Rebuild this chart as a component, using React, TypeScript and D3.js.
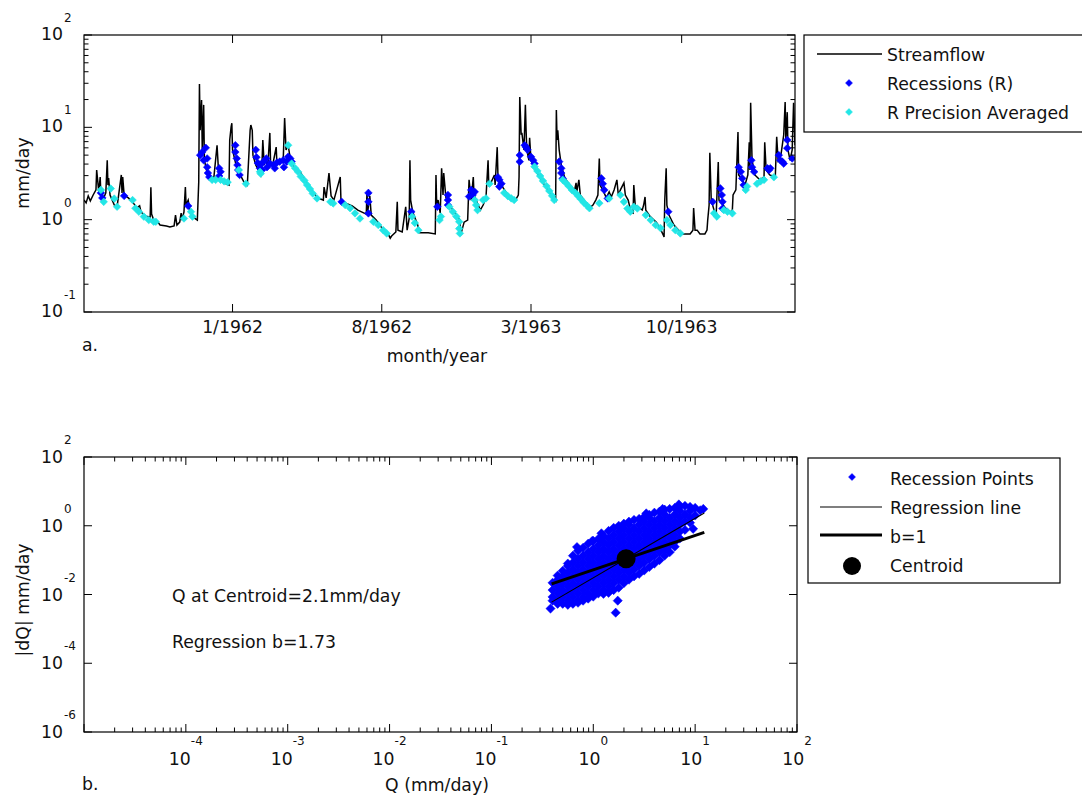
import React from "react";
import * as d3 from "d3";

// ---------------- Panel a data (days after 1 June 1961, mm/day) ----------------
const timeDomainDays: [number, number] = [3, 1013];
const timeTickLabels = ["1/1962", "8/1962", "3/1963", "10/1963"];
const timeTickDates = [new Date(1962, 0, 1), new Date(1962, 7, 1), new Date(1963, 2, 1), new Date(1963, 9, 1)];
const panelAYExponents = [-1, 0, 1, 2];

const streamflow: [number, number][] = [
  [3,1.63],[6,1.52],[9,1.81],[12,1.6],[16,1.85],[20,2.1],[21,3.45],[24,2.0],[26,2.9],[27,1.85],[31,1.72],[34,1.95],[36,4.4],[37,2.37],[38,2.83],[40,1.85],[46,1.44],[50,1.38],[56,3.05],[57,1.95],[58,2.9],[60,1.85],[66,1.72],[73,1.52],[78,1.34],[82,1.41],[84,1.21],[91,1.09],[97,1.07],[98,2.25],[99,1.15],[102,0.99],[108,0.94],[111,0.875],[120,0.855],[125,0.835],[131,0.855],[133,1.12],[135,0.875],[139,0.94],[141,1.18],[142,0.99],[145,1.21],[147,2.25],[148,1.44],[151,1.63],[154,1.18],[160,1.04],[164,0.99],[166,2.57],[167,29.5],[168,9.3],[170,19.8],[171,5.7],[173,17.5],[174,4.4],[177,3.45],[180,2.83],[184,2.7],[187,2.63],[192,6.4],[194,3.45],[196,2.83],[202,2.5],[209,2.37],[210,7.3],[212,10.1],[213,11.1],[214,5.7],[219,3.9],[225,3.05],[230,2.57],[235,2.37],[239,9.3],[240,10.6],[242,9.3],[243,5.0],[247,3.9],[252,3.3],[254,3.05],[256,4.4],[257,7.3],[259,3.9],[261,4.6],[264,3.7],[267,8.7],[268,4.2],[271,3.9],[276,6.1],[277,4.1],[281,4.4],[286,4.4],[288,12.6],[290,5.7],[293,6.4],[296,4.6],[299,3.9],[310,3.3],[324,2.2],[335,1.72],[343,1.63],[344,2.25],[347,1.72],[351,3.2],[354,1.81],[358,1.63],[367,2.9],[368,1.63],[374,1.52],[384,1.41],[392,1.27],[404,1.15],[405,2.0],[406,1.21],[409,1.81],[411,1.12],[418,0.99],[426,0.815],[435,0.7],[438,0.63],[440,0.665],[446,0.735],[448,1.56],[449,0.77],[455,0.735],[460,1.38],[462,0.77],[465,1.04],[466,4.4],[467,1.63],[470,1.21],[477,0.875],[480,0.72],[492,0.72],[502,0.7],[503,3.05],[504,1.44],[506,1.63],[509,1.18],[511,3.6],[513,1.85],[514,3.2],[517,1.76],[520,1.52],[530,1.18],[537,0.99],[538,0.68],[543,0.94],[548,0.99],[550,2.7],[553,1.63],[556,2.9],[557,1.85],[563,1.44],[566,1.27],[570,1.44],[574,1.72],[577,4.4],[578,2.37],[581,2.5],[586,3.05],[587,2.37],[590,6.1],[591,3.05],[596,2.37],[603,1.95],[610,1.72],[616,1.63],[620,1.85],[621,2.9],[622,21.3],[624,8.3],[625,8.7],[628,5.7],[630,17.5],[631,9.3],[632,5.7],[635,4.4],[636,7.7],[638,4.4],[644,3.45],[651,2.83],[658,2.31],[665,1.95],[672,1.68],[673,1.63],[674,15.4],[675,7.3],[676,9.3],[678,5.7],[681,3.9],[686,2.83],[693,2.37],[700,2.1],[702,2.5],[703,2.0],[706,2.7],[708,1.85],[715,1.56],[721,1.34],[726,1.44],[730,1.63],[733,1.85],[735,4.6],[736,2.37],[740,2.1],[745,1.72],[749,2.0],[752,1.76],[756,2.1],[760,2.7],[762,1.85],[765,2.1],[770,2.5],[772,1.85],[776,1.63],[780,1.21],[783,1.18],[784,2.37],[786,1.44],[790,1.38],[796,1.27],[798,1.44],[800,1.76],[801,1.27],[807,1.09],[816,0.94],[821,0.815],[826,0.68],[827,0.65],[828,1.63],[830,3.6],[831,1.44],[834,1.12],[841,0.875],[850,0.735],[854,0.7],[864,0.7],[868,0.77],[869,1.34],[871,0.77],[874,0.77],[878,0.7],[885,0.7],[888,0.77],[889,0.99],[891,1.44],[892,5.3],[894,1.63],[898,1.27],[901,1.12],[904,4.2],[905,1.63],[909,1.52],[914,1.34],[921,1.21],[924,1.27],[925,1.85],[929,2.1],[932,8.9],[933,3.05],[938,2.7],[942,2.37],[946,3.05],[948,6.9],[949,3.45],[950,18.4],[952,4.4],[956,3.05],[963,2.7],[969,2.9],[970,6.9],[972,3.45],[977,3.05],[985,2.9],[987,7.9],[989,4.4],[993,5.0],[997,8.3],[999,18.8],[1000,7.3],[1002,14.6],[1003,5.7],[1006,4.4],[1009,5.7],[1011,18.4],[1013,6.4]
];

const recessions: [number, number][] = [
  [27,1.95],[29,1.72],[60,1.81],[151,1.41],[168,5.0],[171,5.4],[173,4.4],[176,6.0],[178,4.6],[178,3.7],[179,3.2],[181,2.9],[195,3.6],[195,2.97],[197,3.3],[218,6.4],[218,5.4],[220,4.6],[221,3.9],[222,3.45],[224,3.05],[247,5.7],[248,4.75],[250,4.1],[253,3.6],[253,3.9],[256,3.45],[258,4.25],[262,4.6],[263,3.7],[267,4.05],[272,3.9],[274,3.6],[277,4.15],[281,4.25],[286,4.4],[287,3.7],[291,4.25],[293,4.8],[296,4.6],[298,4.25],[369,1.56],[407,1.95],[407,1.56],[407,1.17],[468,1.22],[505,1.38],[520,1.85],[520,1.63],[520,1.44],[550,1.78],[553,2.1],[555,1.85],[558,2.0],[591,2.88],[593,2.7],[593,2.28],[596,2.45],[622,5.0],[622,4.25],[629,6.4],[631,6.1],[633,5.7],[638,4.8],[641,4.4],[643,4.05],[678,4.25],[681,3.6],[681,3.2],[683,2.8],[738,2.8],[740,2.45],[742,2.1],[747,1.7],[833,1.22],[896,1.56],[907,2.18],[909,1.85],[910,1.56],[910,1.32],[933,3.7],[936,3.3],[938,2.8],[940,2.37],[951,4.4],[952,3.7],[955,3.3],[974,3.6],[976,3.45],[978,3.6],[990,5.0],[992,4.4],[995,4.25],[997,4.05],[1002,7.3],[1002,5.95],[1009,4.6]
];

const precisionAveraged: [number, number][] = [
  [27,2.1],[31,1.56],[41,2.17],[46,1.69],[50,1.38],[72,1.63],[76,1.33],[81,1.22],[88,1.08],[95,0.99],[102,0.95],[105,0.95],[145,1.03],[155,1.22],[157,1.08],[185,2.7],[190,2.7],[197,2.7],[202,2.6],[207,2.55],[223,3.45],[233,2.45],[253,3.3],[254,3.15],[293,6.4],[298,4.05],[303,3.6],[307,3.3],[311,2.93],[316,2.66],[320,2.37],[324,2.15],[328,1.92],[334,1.7],[353,1.56],[357,1.5],[374,1.44],[381,1.33],[388,1.17],[395,1.03],[414,0.95],[421,0.875],[428,0.77],[433,0.71],[469,1.08],[473,0.92],[478,0.77],[508,0.99],[510,1.08],[522,1.38],[527,1.22],[532,1.08],[536,0.95],[536,0.8],[537,0.71],[558,1.63],[560,1.44],[562,1.27],[570,1.63],[574,1.7],[579,2.45],[600,1.95],[605,1.8],[610,1.7],[614,1.63],[643,3.75],[647,3.37],[651,2.97],[655,2.63],[660,2.31],[664,2.05],[668,1.81],[671,1.63],[683,2.7],[688,2.48],[692,2.29],[696,2.1],[701,1.95],[705,1.8],[709,1.66],[713,1.53],[718,1.41],[721,1.33],[735,1.51],[749,1.7],[765,1.85],[770,1.56],[775,1.32],[779,1.22],[784,1.38],[789,1.32],[801,1.12],[808,0.99],[815,0.875],[822,0.81],[831,0.99],[836,0.875],[843,0.77],[850,0.71],[898,1.17],[902,1.08],[912,1.27],[917,1.22],[924,1.17],[943,2.1],[945,2.29],[959,2.45],[964,2.6],[969,2.7],[983,2.88]
];

// ---------------- Panel b data (log10 Q, list of log10 |dQ|) ----------------
const panelBXExponents = [-4, -3, -2, -1, 0, 1, 2];
const panelBYExponents = [-6, -4, -2, 0, 2];

const recessionCloud: [number, number[]][] = [
  [-0.40, [-1.66, -1.87, -2.07, -2.18]],
  [-0.35, [-1.45, -1.57, -1.77, -1.97, -2.17, -2.27]],
  [-0.30, [-1.31, -1.47, -1.67, -1.87, -2.07, -2.27]],
  [-0.25, [-1.10, -1.17, -1.37, -1.57, -1.77, -1.97, -2.17, -2.30]],
  [-0.20, [-0.87, -1.07, -1.27, -1.47, -1.67, -1.87, -2.07, -2.27]],
  [-0.15, [-0.73, -0.97, -1.17, -1.37, -1.57, -1.77, -1.97, -2.17, -2.24]],
  [-0.10, [-0.64, -0.87, -1.07, -1.27, -1.47, -1.67, -1.87, -2.07, -2.18]],
  [-0.05, [-0.52, -0.77, -0.97, -1.17, -1.37, -1.57, -1.77, -1.97, -2.12]],
  [0.00, [-0.44, -0.67, -0.87, -1.07, -1.27, -1.47, -1.67, -1.87, -2.06]],
  [0.05, [-0.38, -0.57, -0.77, -0.97, -1.17, -1.37, -1.57, -1.77, -1.97]],
  [0.10, [-0.29, -0.47, -0.67, -0.87, -1.07, -1.27, -1.47, -1.67, -1.87, -1.98]],
  [0.15, [-0.15, -0.37, -0.57, -0.77, -0.97, -1.17, -1.37, -1.57, -1.77, -1.95]],
  [0.20, [-0.06, -0.27, -0.47, -0.67, -0.87, -1.07, -1.27, -1.47, -1.67, -1.87]],
  [0.25, [0.00, -0.17, -0.37, -0.57, -0.77, -0.97, -1.17, -1.37, -1.57, -1.80]],
  [0.30, [0.06, -0.07, -0.27, -0.47, -0.67, -0.87, -1.07, -1.27, -1.47, -1.67]],
  [0.35, [0.12, 0.03, -0.17, -0.37, -0.57, -0.77, -0.97, -1.17, -1.37, -1.57]],
  [0.40, [0.17, -0.07, -0.27, -0.47, -0.67, -0.87, -1.07, -1.27, -1.47]],
  [0.45, [0.20, 0.03, -0.17, -0.37, -0.57, -0.77, -0.97, -1.17, -1.40]],
  [0.50, [0.26, 0.13, -0.07, -0.27, -0.47, -0.67, -0.87, -1.07, -1.30]],
  [0.55, [0.32, 0.23, 0.03, -0.17, -0.37, -0.57, -0.77, -0.97, -1.20]],
  [0.60, [0.38, 0.13, -0.07, -0.27, -0.47, -0.67, -0.87, -1.10]],
  [0.65, [0.41, 0.23, 0.03, -0.17, -0.37, -0.57, -0.77, -1.00]],
  [0.70, [0.47, 0.33, 0.13, -0.07, -0.27, -0.47, -0.67, -0.87]],
  [0.75, [0.49, 0.23, 0.03, -0.17, -0.37, -0.57, -0.77]],
  [0.80, [0.52, 0.33, 0.13, -0.07, -0.27, -0.47, -0.61]],
  [0.85, [0.55, 0.43, 0.23, 0.03, -0.17, -0.37]],
  [0.90, [0.58, 0.33, 0.13, -0.12]],
  [0.95, [0.55, 0.43, 0.23, 0.09]],
  [1.00, [0.52, 0.30]],
  [1.05, [0.45]]
];
const recessionOutliers: [number, number][] = [
  [-0.42, -2.41], [0.24, -2.18], [0.22, -2.53], [0.68, 0.49], [1.08, 0.49], [0.98, -0.09], [-0.01, -0.44],
  [-0.16, -0.62], [0.08, -0.22], [0.52, 0.36], [0.84, 0.62]
];

const centroid = { Q: 2.1, dQ: 0.11 };
const regressionB = 1.73;
const lineQ = [0.39, 12.3];
const regressionDQ = [0.006, 2.34];
const slopeOneDQ = [0.0204, 0.644];

const legendA = ["Streamflow", "Recessions (R)", "R Precision Averaged"];
const legendB = ["Recession Points", "Regression line", "b=1", "Centroid"];

const BLUE = "#0000ff";
const CYAN = "#22e6e6";
const FONT = "'DejaVu Sans', Verdana, sans-serif";
const FS = 17.3;
const EFS = 12;

const diamond = (cx: number, cy: number, r: number) =>
  `M${cx},${cy - r}L${cx + r},${cy}L${cx},${cy + r}L${cx - r},${cy}Z`;

export default function App() {
  // ---------- Panel a ----------
  const A = { l: 84, r: 795, t: 35, b: 312 };
  const dayToDate = (d: number) => new Date(1961, 5, 1 + d);
  const xA = d3.scaleTime().domain([dayToDate(timeDomainDays[0]), dayToDate(timeDomainDays[1])]).range([A.l, A.r]);
  const yA = d3.scaleLog().domain([0.1, 100]).range([A.b, A.t]);
  const lineA = d3.line<[number, number]>().x((d) => xA(dayToDate(d[0]))).y((d) => yA(d[1]));

  const minorA: number[] = [];
  for (let e = -1; e < 2; e++) for (let m = 2; m <= 9; m++) minorA.push(m * Math.pow(10, e));

  // ---------- Panel b ----------
  const B = { l: 84, r: 797, t: 457, b: 732 };
  const xB = d3.scaleLog().domain([1e-5, 1e2]).range([B.l, B.r]);
  const yB = d3.scaleLog().domain([1e-6, 1e2]).range([B.b, B.t]);
  const majorBX: number[] = [];
  const minorBX: number[] = [];
  for (let e = -5; e <= 2; e++) {
    majorBX.push(Math.pow(10, e));
    if (e < 2) for (let m = 2; m <= 9; m++) minorBX.push(m * Math.pow(10, e));
  }
  const cloudPts: [number, number][] = [];
  recessionCloud.forEach(([lq, list]) => list.forEach((ld) => cloudPts.push([Math.pow(10, lq), Math.pow(10, ld)])));
  recessionOutliers.forEach(([lq, ld]) => cloudPts.push([Math.pow(10, lq), Math.pow(10, ld)]));

  const tickStroke = { stroke: "#000", strokeWidth: 1 };

  return (
    <svg width={1082} height={798} style={{ position: "absolute", left: 0, top: 0, background: "#fff" }}
      fontFamily={FONT} fontSize={FS} fill="#111">
      <rect x={0} y={0} width={1082} height={798} fill="#fff" />
      <defs>
        <clipPath id="clipA"><rect x={A.l} y={A.t} width={A.r - A.l} height={A.b - A.t} /></clipPath>
        <clipPath id="clipB"><rect x={B.l} y={B.t} width={B.r - B.l} height={B.b - B.t} /></clipPath>
      </defs>

      {/* ================= Panel a ================= */}
      <g clipPath="url(#clipA)">
        <path d={lineA(streamflow) || ""} fill="none" stroke="#000" strokeWidth={1.5} />
        {recessions.map((p, i) => (
          <path key={"r" + i} d={diamond(xA(dayToDate(p[0])), yA(p[1]), 3.8)} fill={BLUE} stroke={BLUE} strokeWidth={0.6} />
        ))}
        {precisionAveraged.map((p, i) => (
          <path key={"c" + i} d={diamond(xA(dayToDate(p[0])), yA(p[1]), 3.8)} fill={CYAN} stroke={CYAN} strokeWidth={0.6} />
        ))}
      </g>
      <rect x={A.l} y={A.t} width={A.r - A.l} height={A.b - A.t} fill="none" stroke="#000" strokeWidth={1.2} />
      {panelAYExponents.map((e) => {
        const y = yA(Math.pow(10, e));
        return (
          <g key={"ya" + e}>
            <line x1={A.l} x2={A.l + 8} y1={y} y2={y} {...tickStroke} />
            <line x1={A.r} x2={A.r - 8} y1={y} y2={y} {...tickStroke} />
            <text x={63} y={y + 5} textAnchor="end">10</text>
            <text x={64} y={y - 13} fontSize={EFS}>{e}</text>
          </g>
        );
      })}
      {minorA.map((v, i) => (
        <g key={"yam" + i}>
          <line x1={A.l} x2={A.l + 4.5} y1={yA(v)} y2={yA(v)} {...tickStroke} />
          <line x1={A.r} x2={A.r - 4.5} y1={yA(v)} y2={yA(v)} {...tickStroke} />
        </g>
      ))}
      {timeTickDates.map((dt, i) => {
        const x = xA(dt);
        return (
          <g key={"xa" + i}>
            <line x1={x} x2={x} y1={A.b} y2={A.b - 8} {...tickStroke} />
            <line x1={x} x2={x} y1={A.t} y2={A.t + 8} {...tickStroke} />
            <text x={x} y={333} textAnchor="middle">{timeTickLabels[i]}</text>
          </g>
        );
      })}
      <text x={437} y={362} textAnchor="middle">month/year</text>
      <text x={82} y={351}>a.</text>
      <text transform="translate(29,173) rotate(-90)" textAnchor="middle">mm/day</text>

      {/* Legend a */}
      <rect x={804} y={35} width={300} height={97} fill="#fff" stroke="#000" strokeWidth={1.2} />
      <line x1={817} x2={882} y1={54} y2={54} stroke="#000" strokeWidth={1.3} />
      <path d={diamond(849, 83, 3.5)} fill={BLUE} stroke={BLUE} strokeWidth={0.5} />
      <path d={diamond(849, 112, 3.5)} fill={CYAN} stroke={CYAN} strokeWidth={0.5} />
      {legendA.map((t, i) => (
        <text key={"la" + i} x={887} y={61 + i * 28.8}>{t}</text>
      ))}

      {/* ================= Panel b ================= */}
      <g clipPath="url(#clipB)">
        {cloudPts.map((p, i) => (
          <path key={"s" + i} d={diamond(xB(p[0]), yB(p[1]), 4.6)} fill={BLUE} stroke={BLUE} strokeWidth={0.5} />
        ))}
        <line x1={xB(lineQ[0])} x2={xB(lineQ[1])} y1={yB(regressionDQ[0])} y2={yB(regressionDQ[1])} stroke="#000" strokeWidth={1.1} />
        <line x1={xB(lineQ[0])} x2={xB(lineQ[1])} y1={yB(slopeOneDQ[0])} y2={yB(slopeOneDQ[1])} stroke="#000" strokeWidth={3} />
        <circle cx={xB(centroid.Q)} cy={yB(centroid.dQ)} r={9.5} fill="#000" />
      </g>
      <rect x={B.l} y={B.t} width={B.r - B.l} height={B.b - B.t} fill="none" stroke="#000" strokeWidth={1.2} />
      {panelBYExponents.map((e) => {
        const y = yB(Math.pow(10, e));
        return (
          <g key={"yb" + e}>
            <line x1={B.l} x2={B.l + 8} y1={y} y2={y} {...tickStroke} />
            <line x1={B.r} x2={B.r - 8} y1={y} y2={y} {...tickStroke} />
            <text x={63} y={y + 6} textAnchor="end">10</text>
            <text x={64} y={y - 13} fontSize={EFS}>{e}</text>
          </g>
        );
      })}
      {majorBX.map((v, i) => (
        <g key={"xbM" + i}>
          <line x1={xB(v)} x2={xB(v)} y1={B.b} y2={B.b - 8} {...tickStroke} />
          <line x1={xB(v)} x2={xB(v)} y1={B.t} y2={B.t + 8} {...tickStroke} />
        </g>
      ))}
      {minorBX.map((v, i) => (
        <g key={"xbm" + i}>
          <line x1={xB(v)} x2={xB(v)} y1={B.b} y2={B.b - 4.5} {...tickStroke} />
          <line x1={xB(v)} x2={xB(v)} y1={B.t} y2={B.t + 4.5} {...tickStroke} />
        </g>
      ))}
      {panelBXExponents.map((e) => {
        const x = xB(Math.pow(10, e));
        return (
          <text key={"xbl" + e} x={x} y={765} textAnchor="middle">
            10<tspan dy={-20} fontSize={EFS}>{e}</tspan>
          </text>
        );
      })}
      <text x={437} y={791} textAnchor="middle">Q (mm/day)</text>
      <text x={82} y={790}>b.</text>
      <text transform="translate(29,600) rotate(-90)" textAnchor="middle">|dQ| mm/day</text>
      <text x={172} y={602}>{`Q at Centroid=${centroid.Q}mm/day`}</text>
      <text x={172} y={648}>{`Regression b=${regressionB}`}</text>

      {/* Legend b */}
      <rect x={808} y={458} width={252} height={125} fill="#fff" stroke="#000" strokeWidth={1.2} />
      <path d={diamond(852, 477, 3.5)} fill={BLUE} stroke={BLUE} strokeWidth={0.5} />
      <line x1={820} x2={882} y1={507} y2={507} stroke="#000" strokeWidth={1.1} />
      <line x1={820} x2={882} y1={535} y2={535} stroke="#000" strokeWidth={3} />
      <circle cx={852} cy={566} r={9} fill="#000" />
      {legendB.map((t, i) => (
        <text key={"lb" + i} x={890} y={485 + i * 29} >{t}</text>
      ))}
    </svg>
  );
}
